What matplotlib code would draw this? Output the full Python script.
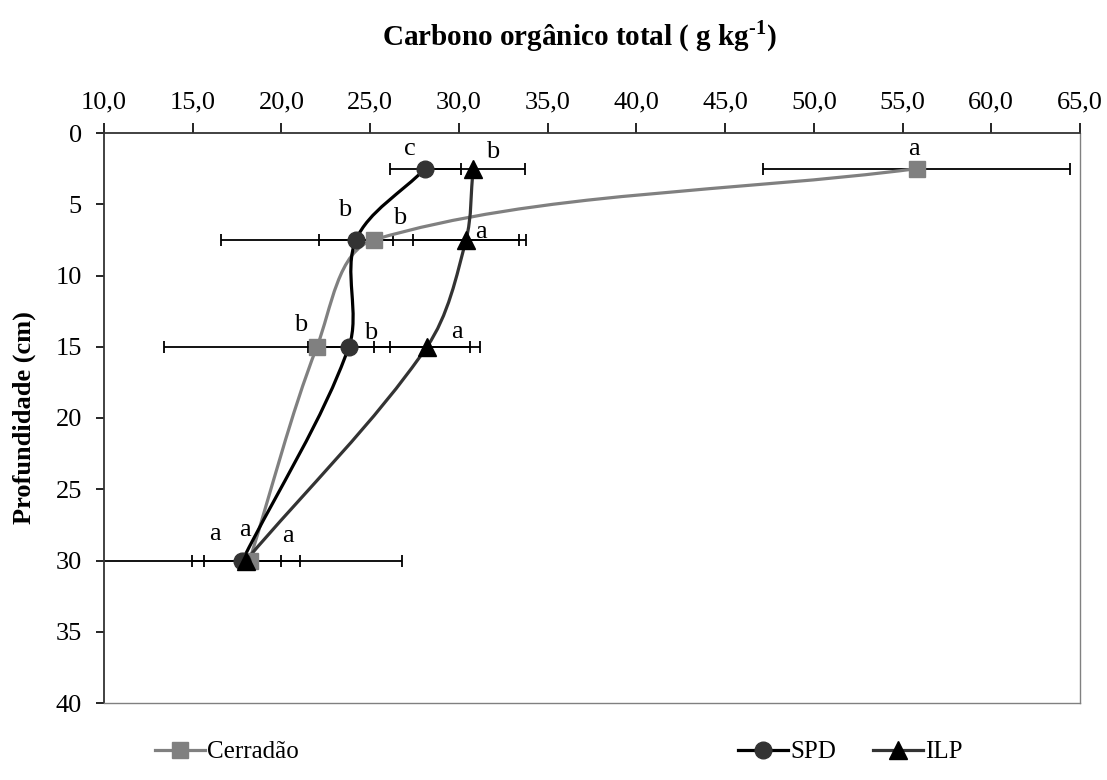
import numpy as np
import matplotlib
matplotlib.use("Agg")
import matplotlib.pyplot as plt
from matplotlib.path import Path
from matplotlib.patches import PathPatch
from matplotlib.lines import Line2D

plt.rcParams['font.family'] = ['Liberation Serif', 'DejaVu Serif']
plt.rcParams['mathtext.fontset'] = 'custom'
plt.rcParams['mathtext.rm'] = 'Liberation Serif'
plt.rcParams['mathtext.bf'] = 'Liberation Serif:bold'

# ---- data ----
depth = [2.5, 7.5, 15, 30]
cerradao = [55.8, 25.2, 22.0, 18.2]
spd = [28.1, 24.2, 23.8, 17.8]
ilp = [30.8, 30.4, 28.2, 18.0]
cerradao_err = [8.65, 8.6, 8.6, 8.6]
spd_err = [2.0, 2.1, 2.3, 2.15]
ilp_err = [2.9, 3.0, 3.0, 3.05]
cerradao_letters = ['a', 'b', 'b', 'a']
spd_letters = ['c', 'b', 'b', 'a']
ilp_letters = ['b', 'a', 'a', 'a']
xticks = [10, 15, 20, 25, 30, 35, 40, 45, 50, 55, 60, 65]
yticks = [0, 5, 10, 15, 20, 25, 30, 35, 40]

FS = 19

fig = plt.figure(figsize=(11.07, 7.80), dpi=100)
ax = fig.add_axes([104/1107, 1-703/780, (1080-104)/1107, (703-133)/780])
ax.set_xlim(10, 65)
ax.set_ylim(40, 0)


def smooth_path(xs, ys):
    """Spreadsheet-style smoothed line: Bezier segments whose tangent lengths
    are weighted by neighbouring segment lengths (computed in screen space)."""
    data = np.column_stack([xs, ys]).astype(float)
    pts = ax.transData.transform(data)
    n = len(pts)
    k = 1.0 / 3.0
    verts = [pts[0]]
    codes = [Path.MOVETO]

    def tangent(i):
        p_prev = pts[i - 1] if i > 0 else pts[i]
        p_next = pts[i + 1] if i < n - 1 else pts[i]
        return p_next - p_prev, np.linalg.norm(pts[i] - p_prev), np.linalg.norm(p_next - pts[i])

    for i in range(n - 1):
        t1, a1, b1 = tangent(i)
        t2, a2, b2 = tangent(i + 1)
        c1 = pts[i] + t1 * k * (b1 / (a1 + b1))
        c2 = pts[i + 1] - t2 * k * (a2 / (a2 + b2))
        verts += [c1, c2, pts[i + 1]]
        codes += [Path.CURVE4] * 3
    verts = ax.transData.inverted().transform(np.array(verts))
    return Path(verts, codes)


series = [
    ("Cerradão", cerradao, cerradao_err, cerradao_letters, '#808080', '#808080', 's', 11),
    ("SPD", spd, spd_err, spd_letters, '#000000', '#333333', 'o', 12),
    ("ILP", ilp, ilp_err, ilp_letters, '#333333', '#000000', '^', 13),
]

# error bars
for name, vals, err, letters, lc, mc, mk, ms in series:
    ax.errorbar(vals, depth, xerr=err, fmt='none', ecolor='black',
                elinewidth=1.3, capsize=4, capthick=1.3, zorder=2)

# smooth lines
for name, vals, err, letters, lc, mc, mk, ms in series:
    patch = PathPatch(smooth_path(vals, depth), facecolor='none',
                      edgecolor=lc, lw=2.3, zorder=3)
    ax.add_patch(patch)

# markers
for name, vals, err, letters, lc, mc, mk, ms in series:
    ax.plot(vals, depth, linestyle='none', marker=mk, markersize=ms,
            color=mc, markeredgecolor=mc, zorder=4)

# letter labels (offsets in points)
offsets = {
    "Cerradão": [(-2, 14), (19, 16), (-11.5, 16), (-3.6, 21.6)],
    "SPD": [(-11, 14), (-8.5, 21.5), (15.6, 10), (-20, 19)],
    "ILP": [(14, 12), (11, 6), (21.6, 10.6), (30, 18)],
}
for name, vals, err, letters, lc, mc, mk, ms in series:
    for i, (xv, yv, lt) in enumerate(zip(vals, depth, letters)):
        ax.annotate(lt, (xv, yv), xytext=offsets[name][i], textcoords='offset points',
                    ha='center', va='center', fontsize=FS, zorder=5)

ax.xaxis.tick_top()
ax.set_xticks(xticks)
ax.set_xticklabels([f"{v:.1f}".replace('.', ',') for v in xticks], fontsize=FS)
ax.set_yticks(yticks)
ax.set_yticklabels([str(v) for v in yticks], fontsize=FS)
ax.tick_params(axis='x', direction='out', length=7, width=1.2, pad=7)
ax.tick_params(axis='y', direction='out', length=6, width=1.2, pad=10)
fig.text(580/1107, 1 - 36/780,
         "Carbono orgânico total ( g kg$^{\\mathbf{\u2010}\\mathbf{1}}$)",
         fontsize=21, fontweight='bold', ha='center', va='center')
ax.set_ylabel("Profundidade (cm)", fontsize=FS, fontweight='bold', labelpad=14)
for s in ['top', 'left']:
    ax.spines[s].set_color('#333333')
    ax.spines[s].set_linewidth(1.3)
for s in ['right', 'bottom']:
    ax.spines[s].set_color('#808080')
    ax.spines[s].set_linewidth(1.0)

# legends
anchors = [155/1107, 738/1107, 873/1107]
for (name, vals, err, letters, lc, mc, mk, ms), xa in zip(series, anchors):
    h = Line2D([], [], color=lc, lw=2.3, marker=mk, markersize=ms,
               markerfacecolor=mc, markeredgecolor=mc)
    fig.legend([h], [name], loc='center left', bbox_to_anchor=(xa, 1-752/780),
               frameon=False, fontsize=18, borderpad=0, borderaxespad=0,
               handlelength=2.0, handletextpad=0.1)

fig.savefig("out.png", dpi=100)
